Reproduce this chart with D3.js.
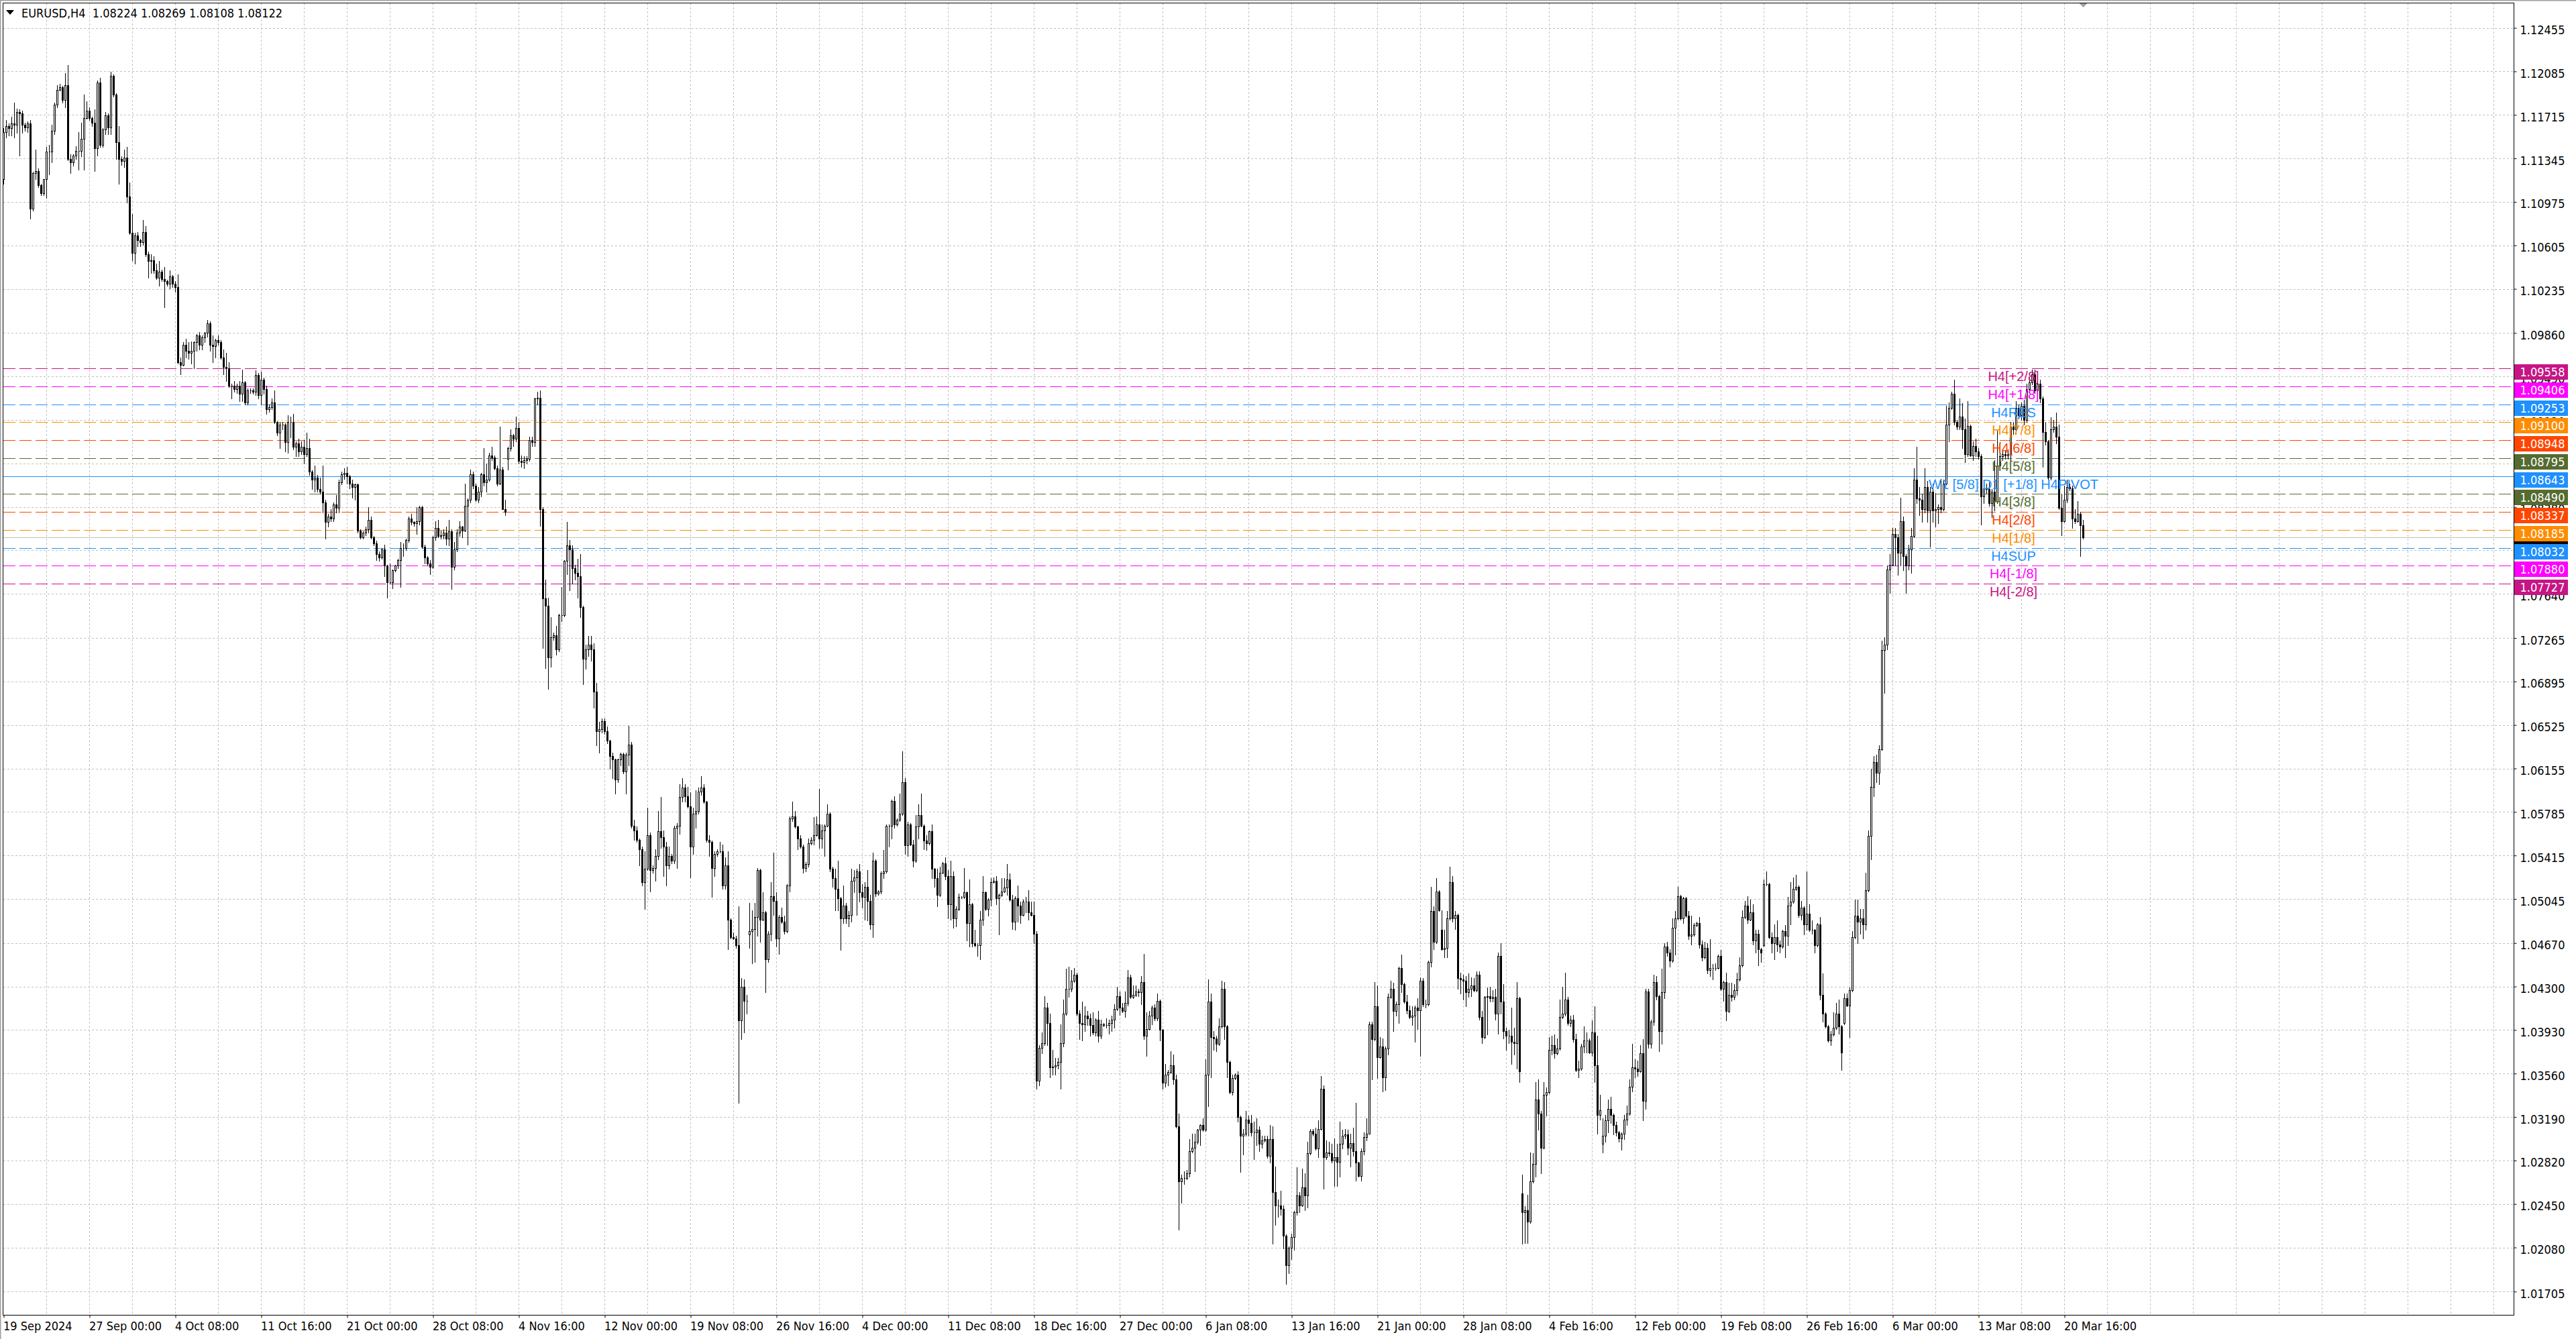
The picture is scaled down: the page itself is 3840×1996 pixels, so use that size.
<!DOCTYPE html>
<html>
<head>
<meta charset="utf-8">
<title>EURUSD,H4</title>
<script src="https://cdnjs.cloudflare.com/ajax/libs/d3/7.8.5/d3.min.js"></script>
<style>
  html, body { margin: 0; padding: 0; background: #ffffff; }
  svg { display: block; }
</style>
</head>
<body>
<div id="chart"></div>
<script>
// EURUSD H4 bars, 19 Sep 2024 16:00 .. 21 Mar 2025 20:00
// closes in pips (price * 10000), one per bar
var closes = [
  11157, 11162, 11160, 11164, 11163, 11174, 11173, 11163, 11161, 11164,
  11092, 11122, 11124, 11112, 11105, 11117, 11140, 11140, 11158, 11180,
  11193, 11195, 11184, 11197, 11134, 11131, 11137, 11141, 11141, 11151,
  11169, 11175, 11169, 11165, 11143, 11199, 11146, 11159, 11171, 11161,
  11205, 11189, 11148, 11134, 11132, 11135, 11102, 11071, 11054, 11069,
  11065, 11063, 11072, 11053, 11047, 11048, 11039, 11033, 11038, 11032,
  11030, 11028, 11034, 11028, 11025, 10961, 10959, 10976, 10971, 10969,
  10971, 10978, 10984, 10976, 10982, 10986, 10994, 10976, 10975, 10980,
  10978, 10965, 10957, 10956, 10941, 10941, 10938, 10941, 10934, 10944,
  10927, 10937, 10937, 10936, 10950, 10933, 10946, 10938, 10921, 10923,
  10927, 10910, 10901, 10908, 10908, 10893, 10910, 10910, 10889, 10892,
  10885, 10889, 10883, 10888, 10868, 10861, 10863, 10853, 10851, 10842,
  10825, 10830, 10828, 10840, 10837, 10859, 10866, 10867, 10864, 10858,
  10855, 10857, 10818, 10812, 10816, 10819, 10827, 10812, 10807, 10798,
  10795, 10802, 10788, 10774, 10774, 10784, 10788, 10793, 10803, 10803,
  10810, 10828, 10825, 10824, 10826, 10838, 10804, 10795, 10790, 10787,
  10812, 10820, 10813, 10814, 10816, 10811, 10817, 10787, 10802, 10816,
  10821, 10818, 10839, 10844, 10866, 10856, 10844, 10851, 10866, 10859,
  10861, 10882, 10880, 10871, 10858, 10870, 10836, 10834, 10888, 10899,
  10896, 10905, 10877, 10876, 10878, 10879, 10895, 10893, 10930, 10931,
  10836, 10760, 10754, 10710, 10727, 10729, 10717, 10746, 10746, 10792,
  10805, 10802, 10786, 10782, 10779, 10753, 10709, 10717, 10721, 10717,
  10681, 10647, 10649, 10656, 10647, 10639, 10626, 10623, 10606, 10623,
  10628, 10613, 10627, 10636, 10567, 10563, 10555, 10547, 10519, 10530,
  10559, 10529, 10531, 10541, 10562, 10557, 10549, 10533, 10541, 10537,
  10565, 10567, 10591, 10599, 10592, 10583, 10549, 10577, 10579, 10596,
  10599, 10587, 10555, 10553, 10531, 10543, 10545, 10545, 10516, 10533,
  10487, 10472, 10471, 10465, 10401, 10430, 10418, 10418, 10477, 10479,
  10489, 10529, 10487, 10493, 10453, 10475, 10507, 10503, 10471, 10489,
  10485, 10477, 10516, 10573, 10575, 10566, 10556, 10549, 10531, 10534,
  10552, 10555, 10559, 10568, 10556, 10563, 10567, 10577, 10530, 10522,
  10513, 10505, 10488, 10499, 10488, 10491, 10520, 10523, 10528, 10510,
  10506, 10515, 10503, 10483, 10537, 10509, 10511, 10526, 10528, 10567,
  10567, 10588, 10568, 10572, 10577, 10604, 10550, 10568, 10551, 10537,
  10566, 10576, 10567, 10554, 10552, 10562, 10530, 10522, 10508, 10527,
  10535, 10524, 10500, 10524, 10488, 10496, 10506, 10506, 10510, 10484,
  10500, 10467, 10465, 10465, 10487, 10510, 10496, 10504, 10519, 10520,
  10505, 10508, 10511, 10514, 10521, 10504, 10485, 10505, 10499, 10491,
  10502, 10502, 10493, 10491, 10475, 10350, 10378, 10382, 10412, 10399,
  10361, 10362, 10363, 10366, 10382, 10407, 10428, 10428, 10435, 10440,
  10407, 10399, 10398, 10405, 10403, 10397, 10391, 10402, 10388, 10398,
  10397, 10397, 10399, 10402, 10411, 10422, 10412, 10409, 10416, 10438,
  10421, 10423, 10426, 10425, 10434, 10388, 10394, 10405, 10412, 10403,
  10418, 10393, 10348, 10355, 10357, 10363, 10351, 10311, 10264, 10267,
  10267, 10271, 10290, 10293, 10298, 10308, 10312, 10308, 10355, 10417,
  10387, 10386, 10381, 10396, 10428, 10396, 10366, 10340, 10352, 10355,
  10319, 10303, 10305, 10317, 10314, 10306, 10306, 10308, 10296, 10299,
  10300, 10286, 10300, 10255, 10244, 10244, 10241, 10218, 10193, 10208,
  10217, 10238, 10252, 10244, 10259, 10252, 10288, 10307, 10305, 10292,
  10309, 10343, 10285, 10289, 10288, 10282, 10285, 10281, 10296, 10303,
  10304, 10293, 10297, 10290, 10280, 10269, 10290, 10302, 10305, 10398,
  10385, 10413, 10370, 10379, 10353, 10377, 10421, 10428, 10409, 10415,
  10446, 10432, 10417, 10410, 10404, 10405, 10412, 10410, 10435, 10415,
  10415, 10451, 10494, 10468, 10511, 10495, 10462, 10463, 10488, 10519,
  10488, 10491, 10437, 10436, 10435, 10425, 10428, 10431, 10427, 10440,
  10404, 10387, 10421, 10422, 10420, 10421, 10407, 10456, 10417, 10392,
  10388, 10388, 10383, 10382, 10420, 10358, 10238, 10240, 10230, 10264,
  10279, 10334, 10322, 10293, 10338, 10340, 10376, 10380, 10373, 10377,
  10404, 10407, 10419, 10399, 10402, 10385, 10359, 10360, 10379, 10384,
  10384, 10374, 10391, 10363, 10321, 10325, 10303, 10316, 10326, 10321,
  10312, 10306, 10301, 10305, 10317, 10322, 10345, 10361, 10360, 10358,
  10373, 10333, 10426, 10381, 10400, 10434, 10422, 10392, 10425, 10464,
  10459, 10452, 10480, 10488, 10507, 10488, 10505, 10490, 10473, 10474,
  10482, 10484, 10466, 10455, 10463, 10444, 10446, 10446, 10446, 10456,
  10428, 10434, 10409, 10423, 10421, 10427, 10436, 10448, 10489, 10499,
  10487, 10493, 10469, 10475, 10462, 10459, 10517, 10517, 10472, 10467,
  10472, 10466, 10464, 10477, 10473, 10499, 10502, 10513, 10515, 10491,
  10497, 10483, 10492, 10478, 10478, 10465, 10483, 10423, 10407, 10396,
  10384, 10389, 10395, 10407, 10396, 10374, 10420, 10414, 10427, 10472,
  10490, 10485, 10488, 10483, 10512, 10558, 10600, 10621, 10612, 10632,
  10716, 10721, 10785, 10789, 10815, 10812, 10799, 10826, 10796, 10788,
  10802, 10813, 10861, 10845, 10844, 10836, 10855, 10835, 10851, 10835,
  10836, 10838, 10836, 10858, 10908, 10922, 10934, 10910, 10906, 10915,
  10904, 10883, 10907, 10882, 10890, 10885, 10881, 10847, 10854, 10853,
  10841, 10851, 10843, 10873, 10881, 10883, 10882, 10883, 10906, 10904,
  10922, 10916, 10924, 10912, 10938, 10944, 10951, 10937, 10943, 10930,
  10902, 10894, 10863, 10904, 10906, 10898, 10837, 10826, 10844, 10855,
  10854, 10828, 10826, 10832, 10822.4, 10812.2
];

// wick above the body, pips
var upperWicks = [
  3, 5, 2, 6, 18, 3, 2, 2, 2, 2,
  3, 1, 18, 2, 1, 0, 4, 6, 5, 2,
  4, 3, 1, 10, 17, 4, 1, 4, 16, 14,
  20, 8, 3, 1, 11, 2, 4, 1, 3, 2,
  3, 1, 1, 14, 2, 7, 9, 12, 16, 2,
  3, 1, 10, 5, 2, 5, 3, 6, 9, 2,
  10, 1, 5, 1, 2, 11, 4, 2, 5, 7,
  8, 1, 1, 3, 2, 1, 3, 2, 8, 1,
  4, 2, 7, 12, 5, 2, 4, 2, 4, 11,
  1, 2, 2, 2, 4, 2, 7, 2, 3, 2,
  3, 10, 1, 2, 2, 1, 6, 5, 7, 2,
  4, 5, 6, 13, 8, 1, 10, 2, 10, 22,
  2, 2, 6, 2, 8, 2, 2, 4, 5, 1,
  3, 1, 1, 1, 1, 2, 11, 3, 1, 2,
  2, 1, 4, 1, 16, 1, 1, 1, 5, 4,
  1, 2, 4, 1, 12, 1, 1, 2, 1, 3,
  1, 6, 7, 4, 3, 5, 10, 2, 6, 3,
  5, 1, 19, 1, 4, 2, 2, 4, 1, 22,
  14, 2, 7, 2, 2, 36, 2, 8, 1, 5,
  1, 10, 5, 5, 3, 2, 3, 3, 1, 5,
  6, 2, 16, 7, 17, 2, 8, 1, 24, 1,
  20, 5, 3, 3, 12, 19, 1, 4, 7, 7,
  5, 7, 6, 2, 2, 4, 1, 3, 1, 1,
  1, 1, 2, 16, 2, 5, 3, 1, 2, 15,
  23, 2, 2, 6, 17, 29, 6, 4, 8, 2,
  2, 2, 11, 8, 3, 8, 12, 5, 18, 3,
  10, 3, 1, 4, 1, 2, 2, 8, 6, 7,
  12, 1, 4, 2, 33, 7, 6, 5, 24, 16,
  12, 2, 1, 17, 1, 2, 12, 37, 7, 2,
  8, 5, 1, 2, 12, 4, 1, 3, 2, 2,
  4, 2, 15, 7, 30, 5, 1, 8, 1, 2,
  8, 24, 1, 17, 2, 3, 10, 6, 2, 6,
  7, 4, 14, 5, 7, 1, 1, 2, 18, 1,
  1, 1, 4, 1, 17, 26, 3, 2, 1, 4,
  10, 9, 18, 1, 5, 1, 6, 1, 8, 5,
  1, 5, 5, 13, 4, 2, 3, 1, 21, 1,
  21, 1, 11, 2, 7, 14, 1, 1, 3, 3,
  4, 1, 11, 8, 13, 5, 4, 2, 11, 3,
  2, 4, 10, 9, 11, 2, 2, 9, 10, 4,
  8, 14, 6, 3, 16, 12, 17, 19, 9, 6,
  2, 3, 18, 8, 4, 4, 11, 1, 7, 4,
  1, 6, 3, 3, 4, 8, 4, 4, 10, 6,
  2, 8, 5, 2, 5, 24, 14, 4, 2, 3,
  6, 1, 1, 9, 2, 12, 9, 4, 11, 3,
  6, 3, 10, 12, 7, 1, 1, 6, 13, 19,
  7, 5, 2, 7, 7, 6, 1, 1, 3, 1,
  3, 1, 4, 7, 3, 7, 9, 10, 3, 4,
  3, 3, 12, 11, 22, 5, 12, 3, 1, 1,
  3, 1, 24, 3, 16, 12, 10, 2, 2, 5,
  7, 11, 3, 10, 9, 8, 16, 11, 19, 5,
  5, 4, 8, 13, 41, 1, 2, 4, 13, 2,
  2, 21, 18, 8, 7, 2, 3, 7, 5, 2,
  1, 11, 1, 6, 4, 8, 2, 8, 3, 2,
  4, 1, 21, 4, 11, 1, 17, 15, 6, 13,
  5, 3, 1, 5, 4, 4, 13, 7, 6, 3,
  3, 5, 1, 7, 8, 6, 7, 3, 11, 15,
  3, 5, 24, 12, 14, 1, 16, 3, 13, 25,
  9, 15, 17, 2, 11, 4, 11, 8, 9, 9,
  15, 23, 23, 2, 3, 4, 5, 7, 2, 12,
  7, 2, 10, 22, 25, 13, 15, 5, 8, 10,
  1, 3, 1, 1, 4, 7, 6, 20, 7, 7,
  7, 12, 2, 2, 2, 6, 5, 1, 20, 3,
  4, 3, 8, 6, 8, 1, 1, 1, 4, 16,
  2, 1, 5, 3, 5, 4, 24, 3, 4, 1,
  5, 1, 8, 10, 10, 5, 6, 7, 6, 4,
  8, 11, 7, 3, 3, 1, 4, 11, 1, 4,
  11, 14, 3, 1, 5, 7, 17, 10, 10, 1,
  6, 1, 36, 8, 8, 1, 1, 6, 18, 1,
  1, 3, 13, 9, 12, 1, 4, 4, 2, 5,
  14, 14, 8, 8, 15, 5, 15, 5, 6, 3,
  8, 6, 3, 9, 5, 5, 3, 20, 4, 2,
  4, 7, 10, 28, 10, 5, 16, 5, 4, 7,
  14, 2, 24, 3, 16, 5, 2, 12, 2, 15,
  11, 9, 21, 1, 4, 6, 3, 2, 7, 4,
  6, 2, 27, 30, 12, 3, 3, 4, 4, 4,
  6, 3, 3, 5, 5, 4, 4, 4, 3, 3,
  2, 8, 1, 10, 6, 12, 10, 12, 12, 6,
  3, 2, 8, 11, 2, 4.5
];

// wick below the body, pips
var lowerWicks = [
  4, 5, 6, 6, 11, 7, 36, 7, 3, 4,
  9, 2, 5, 2, 2, 2, 16, 19, 9, 3,
  2, 1, 2, 6, 1, 9, 3, 3, 16, 5,
  26, 1, 2, 3, 19, 6, 2, 2, 4, 6,
  6, 2, 14, 21, 3, 5, 5, 1, 6, 9,
  5, 3, 2, 2, 14, 10, 2, 1, 7, 2,
  22, 2, 4, 3, 4, 1, 8, 1, 6, 5,
  9, 15, 7, 4, 4, 4, 3, 5, 14, 10,
  2, 1, 6, 11, 1, 11, 2, 3, 6, 6,
  2, 2, 2, 2, 3, 3, 8, 4, 4, 2,
  2, 1, 2, 13, 4, 8, 9, 13, 2, 8,
  4, 2, 8, 2, 3, 8, 10, 2, 2, 9,
  14, 4, 2, 2, 4, 4, 2, 4, 6, 4,
  9, 11, 2, 1, 1, 2, 3, 1, 2, 5,
  3, 1, 9, 13, 1, 5, 1, 2, 23, 7,
  2, 2, 2, 2, 9, 3, 1, 5, 1, 6,
  1, 2, 1, 2, 3, 5, 6, 19, 2, 2,
  3, 6, 1, 33, 2, 2, 1, 2, 4, 3,
  8, 1, 2, 1, 2, 1, 0, 3, 9, 2,
  6, 2, 2, 4, 5, 3, 2, 3, 3, 5,
  14, 42, 53, 27, 8, 2, 5, 2, 5, 1,
  11, 35, 13, 6, 18, 9, 22, 9, 6, 10,
  14, 12, 18, 3, 2, 2, 11, 16, 12, 2,
  5, 2, 19, 9, 2, 8, 2, 14, 3, 23,
  1, 18, 2, 11, 3, 9, 25, 17, 3, 2,
  2, 34, 7, 4, 5, 1, 26, 6, 12, 2,
  3, 1, 2, 12, 25, 7, 2, 1, 3, 3,
  25, 1, 1, 2, 70, 16, 27, 11, 11, 27,
  28, 16, 19, 1, 28, 2, 6, 12, 7, 13,
  1, 2, 1, 5, 2, 1, 9, 1, 4, 3,
  2, 1, 4, 1, 8, 8, 22, 1, 2, 7,
  18, 10, 27, 4, 4, 7, 6, 10, 32, 8,
  9, 19, 17, 4, 11, 2, 1, 2, 4, 1,
  18, 11, 3, 1, 1, 1, 7, 9, 1, 5,
  1, 10, 1, 7, 6, 1, 8, 7, 10, 1,
  1, 3, 12, 13, 8, 7, 1, 1, 1, 15,
  20, 3, 1, 9, 12, 5, 1, 6, 5, 1,
  5, 31, 1, 1, 6, 1, 6, 7, 14, 7,
  1, 9, 6, 1, 8, 7, 4, 5, 2, 19,
  8, 6, 7, 3, 23, 3, 1, 7, 2, 1,
  2, 14, 14, 6, 6, 9, 2, 3, 5, 2,
  1, 2, 7, 7, 7, 1, 6, 1, 5, 2,
  1, 1, 1, 3, 10, 3, 17, 1, 7, 2,
  2, 9, 5, 3, 9, 1, 4, 1, 41, 18,
  5, 1, 3, 1, 20, 2, 13, 1, 1, 27,
  34, 10, 6, 1, 1, 11, 13, 1, 2, 1,
  4, 31, 16, 2, 11, 3, 23, 11, 6, 3,
  1, 2, 6, 44, 17, 10, 5, 11, 16, 7,
  10, 11, 2, 6, 1, 12, 10, 1, 2, 1,
  7, 1, 27, 2, 2, 2, 22, 21, 13, 4,
  2, 6, 16, 4, 15, 1, 4, 3, 3, 0,
  34, 1, 18, 1, 12, 11, 5, 1, 17, 4,
  16, 7, 1, 3, 1, 7, 22, 16, 39, 2,
  3, 1, 4, 6, 1, 1, 1, 7, 8, 1,
  3, 9, 9, 12, 16, 12, 4, 6, 1, 1,
  2, 5, 1, 32, 3, 3, 5, 17, 10, 6,
  12, 6, 19, 10, 22, 9, 27, 26, 18, 1,
  1, 11, 14, 22, 1, 18, 1, 4, 4, 1,
  1, 1, 2, 2, 3, 2, 1, 6, 1, 5,
  10, 1, 3, 14, 16, 4, 7, 5, 10, 7,
  8, 3, 3, 10, 5, 5, 1, 4, 7, 4,
  1, 17, 7, 3, 3, 3, 3, 17, 11, 5,
  3, 5, 1, 23, 1, 1, 4, 1, 3, 7,
  1, 1, 3, 3, 1, 3, 5, 10, 2, 1,
  1, 10, 8, 1, 3, 2, 4, 1, 1, 1,
  3, 1, 3, 10, 14, 8, 1, 1, 1, 8,
  14, 6, 5, 1, 18, 8, 16, 1, 1, 2,
  4, 9, 5, 1, 3, 6, 1, 4, 7, 1,
  1, 4, 1, 1, 6, 15, 1, 1, 27, 1,
  1, 18, 10, 12, 5, 1, 20, 8, 8, 10,
  1, 36, 4, 20, 1, 24, 19, 11, 12, 23,
  3, 20, 1, 4, 13, 11, 3, 10, 31, 10,
  14, 12, 3, 1, 1, 14, 1, 2, 2, 2,
  16, 7, 2, 1, 4, 4, 2, 24, 6, 3,
  2, 12, 8, 2, 4, 3, 3, 3, 6, 4,
  4, 3, 4, 4, 2, 3, 2, 2, 3, 3,
  30, 3, 2, 2, 2, 6, 1, 12, 1, 2,
  2, 8, 2, 1, 26, 1.4
];

// bars that do not open at the previous close (first bar, weekend gaps)
var gapOpens = { 0: 11117, 188: 10879, 278: 10474, 536: 10478, 566: 10254, 596: 10296, 656: 10465, 686: 10399 };

// time axis labels, one every 32 bars
var dateLabels = ["19 Sep 2024", "27 Sep 00:00", "4 Oct 08:00", "11 Oct 16:00", "21 Oct 00:00",
  "28 Oct 08:00", "4 Nov 16:00", "12 Nov 00:00", "19 Nov 08:00", "26 Nov 16:00", "4 Dec 00:00",
  "11 Dec 08:00", "18 Dec 16:00", "27 Dec 00:00", "6 Jan 08:00", "13 Jan 16:00", "21 Jan 00:00",
  "28 Jan 08:00", "4 Feb 16:00", "12 Feb 00:00", "19 Feb 08:00", "26 Feb 16:00", "6 Mar 00:00",
  "13 Mar 08:00", "20 Mar 16:00"];

// price axis labels
var priceTicks = [1.12455, 1.12085, 1.11715, 1.11345, 1.10975, 1.10605, 1.10235, 1.09860,
  1.09490, 1.09120, 1.08750, 1.08380, 1.08010, 1.07640, 1.07265, 1.06895, 1.06525, 1.06155,
  1.05785, 1.05415, 1.05045, 1.04670, 1.04300, 1.03930, 1.03560, 1.03190, 1.02820, 1.02450,
  1.02080, 1.01705];

// Murrey math levels drawn by the indicator
var levelNames = ["H4[+2/8]", "H4[+1/8]", "H4RES", "H4[7/8]", "H4[6/8]", "H4[5/8]",
  "W1 [5/8] D1 [+1/8] H4PIVOT", "H4[3/8]", "H4[2/8]", "H4[1/8]", "H4SUP", "H4[-1/8]", "H4[-2/8]"];
var levelPrices = [1.09558, 1.09406, 1.09253, 1.09100, 1.08948, 1.08795, 1.08643,
  1.08490, 1.08337, 1.08185, 1.08032, 1.07880, 1.07727];

// line colours of the levels
var levelColors = ["#c71585", "#ff00ff", "#1e90ff", "#ff8c00", "#ff4500", "#556b2f",
  "#1e90ff", "#556b2f", "#ff4500", "#ff8c00", "#1e90ff", "#ff00ff", "#c71585"];

var svgWidth = 3840;
var svgHeight = 1996;

// plot frame
var frame = { left: 4.5, top: 4.5, right: 3747.5, bottom: 1960.5 };

var axisFont = "'DejaVu Sans Condensed', 'Liberation Sans', sans-serif";
var labelFont = "'Liberation Sans', Arial, sans-serif";

var svg = d3.select("#chart")
  .append("svg")
  .attr("width", svgWidth)
  .attr("height", svgHeight)
  .style("background", "#ffffff");

// build OHLC from the arrays
var bars = closes.map(function(c, i) {
  var o = (i in gapOpens) ? gapOpens[i] : closes[i - 1];
  return {
    i: i,
    open: o / 10000,
    close: c / 10000,
    high: (Math.max(o, c) + upperWicks[i]) / 10000,
    low: (Math.min(o, c) - lowerWicks[i]) / 10000
  };
});
var lastBar = bars[bars.length - 1];

// 4 px per bar, fixed MT4 zoom
var xScale = d3.scaleLinear()
  .domain([0, 100])
  .range([5.5, 405.5]);

var yScale = d3.scaleLinear()
  .domain([1.12455, 1.01705])
  .range([41.6, 1925.3]);

function py(p) {
  return Math.round(yScale(p)) + 0.5;
}

// window edge
svg.append("path")
  .attr("d", "M0.5,1996V0.5H3840")
  .attr("fill", "none")
  .attr("stroke", "#a0a0a0")
  .attr("stroke-width", 2);

// grid
var gridGroup = svg.append("g")
  .attr("stroke", "#c0c0c0")
  .attr("stroke-width", 1)
  .attr("stroke-dasharray", "3,3")
  .attr("shape-rendering", "crispEdges");

gridGroup.selectAll(null)
  .data(priceTicks)
  .enter()
  .append("line")
  .attr("x1", frame.left)
  .attr("x2", frame.right)
  .attr("y1", d => py(d))
  .attr("y2", d => py(d));

gridGroup.selectAll(null)
  .data(d3.range(16, 929, 16))
  .enter()
  .append("line")
  .attr("x1", d => xScale(d))
  .attr("x2", d => xScale(d))
  .attr("y1", frame.top)
  .attr("y2", frame.bottom);

// level lines
var levelGroup = svg.append("g")
  .attr("shape-rendering", "crispEdges");

levelGroup.selectAll(null)
  .data(levelPrices)
  .enter()
  .append("line")
  .attr("x1", frame.left)
  .attr("x2", frame.right)
  .attr("y1", d => py(d))
  .attr("y2", d => py(d))
  .attr("stroke", (d, k) => levelColors[k])
  .attr("stroke-width", 1)
  .attr("stroke-dasharray", (d, k) => levelNames[k].indexOf("PIVOT") >= 0 ? null : "18,6");

// bid line
svg.append("line")
  .attr("x1", frame.left)
  .attr("x2", frame.right)
  .attr("y1", py(lastBar.close))
  .attr("y2", py(lastBar.close))
  .attr("stroke", "#c0c0c0")
  .attr("shape-rendering", "crispEdges");

// candles
var candleGroup = svg.append("g")
  .attr("shape-rendering", "crispEdges");

candleGroup.selectAll(".wick")
  .data(bars)
  .enter()
  .append("line")
  .attr("class", "wick")
  .attr("x1", d => xScale(d.i))
  .attr("x2", d => xScale(d.i))
  .attr("y1", d => Math.round(yScale(d.high)))
  .attr("y2", d => Math.round(yScale(d.low)) + 1)
  .attr("stroke", "#000000");

candleGroup.selectAll(".body")
  .data(bars)
  .enter()
  .append("path")
  .attr("class", "body")
  .attr("d", function(d) {
    var cx = xScale(d.i);
    var top = py(Math.max(d.open, d.close));
    var bottom = py(Math.min(d.open, d.close));
    return "M" + (cx - 1) + "," + top + "H" + (cx + 1) + "V" + bottom + "H" + (cx - 1) + "Z";
  })
  .attr("fill", d => d.close >= d.open ? "#ffffff" : "#000000")
  .attr("stroke", "#000000")
  .attr("stroke-width", 1);

// level names on the chart
svg.append("g")
  .selectAll("text")
  .data(levelPrices)
  .enter()
  .append("text")
  .attr("x", xScale(749))
  .attr("y", d => py(d) + 18)
  .attr("text-anchor", "middle")
  .attr("font-family", labelFont)
  .attr("font-size", 20)
  .attr("fill", (d, k) => levelColors[k])
  .text((d, k) => levelNames[k]);

// price axis
var rightAxis = d3.axisRight(yScale)
  .tickValues(priceTicks)
  .tickFormat(d3.format(".5f"))
  .tickSize(4)
  .tickPadding(5);

var yAxis = svg.append("g")
  .attr("transform", `translate(${frame.right}, 0)`)
  .call(rightAxis);

yAxis.select(".domain").remove();
yAxis.selectAll("line").attr("stroke", "#000000");
yAxis.selectAll("text")
  .attr("dy", "0.5em")
  .attr("font-family", axisFont)
  .attr("font-stretch", "condensed")
  .attr("font-size", 18)
  .attr("fill", "#000000");

// time axis
var bottomAxis = d3.axisBottom(xScale)
  .tickValues(dateLabels.map((d, k) => k * 32))
  .tickFormat((d, k) => dateLabels[k])
  .tickSize(4)
  .tickPadding(6);

var xAxis = svg.append("g")
  .attr("transform", `translate(0, ${frame.bottom})`)
  .call(bottomAxis);

xAxis.select(".domain").remove();
xAxis.selectAll("line").attr("stroke", "#000000");
xAxis.selectAll("text")
  .attr("text-anchor", "start")
  .attr("dx", -1)
  .attr("font-family", axisFont)
  .attr("font-stretch", "condensed")
  .attr("font-size", 18)
  .attr("fill", "#000000");

// bid tag, almost fully covered by the level tags
svg.append("rect")
  .attr("x", frame.right + 0.5)
  .attr("y", Math.round(yScale(lastBar.close)) - 6)
  .attr("width", 80)
  .attr("height", 23)
  .attr("fill", "#000000");

// level price tags on the axis
var tags = svg.append("g")
  .selectAll("g")
  .data(levelPrices)
  .enter()
  .append("g");

tags.append("rect")
  .attr("x", frame.right + 0.5)
  .attr("y", d => Math.round(yScale(d)) - 6)
  .attr("width", 80)
  .attr("height", 23)
  .attr("fill", (d, k) => levelColors[k]);

tags.append("text")
  .attr("x", frame.right + 9)
  .attr("y", d => Math.round(yScale(d)) + 12)
  .attr("font-family", axisFont)
  .attr("font-stretch", "condensed")
  .attr("font-size", 18)
  .attr("fill", "#ffffff")
  .text(d => d.toFixed(5));

// frame
svg.append("rect")
  .attr("x", frame.left)
  .attr("y", frame.top)
  .attr("width", frame.right - frame.left)
  .attr("height", frame.bottom - frame.top)
  .attr("fill", "none")
  .attr("stroke", "#000000")
  .attr("shape-rendering", "crispEdges");

// chart shift marker
var shiftX = xScale(lastBar.i);
svg.append("path")
  .attr("d", `M${shiftX - 6},5H${shiftX + 6}L${shiftX},11Z`)
  .attr("fill", "#a0a0a0");

// header
svg.append("path")
  .attr("d", "M9,15H21L15,22Z")
  .attr("fill", "#000000");

svg.append("text")
  .attr("x", 32)
  .attr("y", 25.5)
  .attr("font-family", axisFont)
  .attr("font-stretch", "condensed")
  .attr("font-size", 18)
  .attr("fill", "#000000")
  .style("white-space", "pre")
  .text("EURUSD,H4  " + [lastBar.open, lastBar.high, lastBar.low, lastBar.close].map(v => v.toFixed(5)).join(" "));
</script>
</body>
</html>
